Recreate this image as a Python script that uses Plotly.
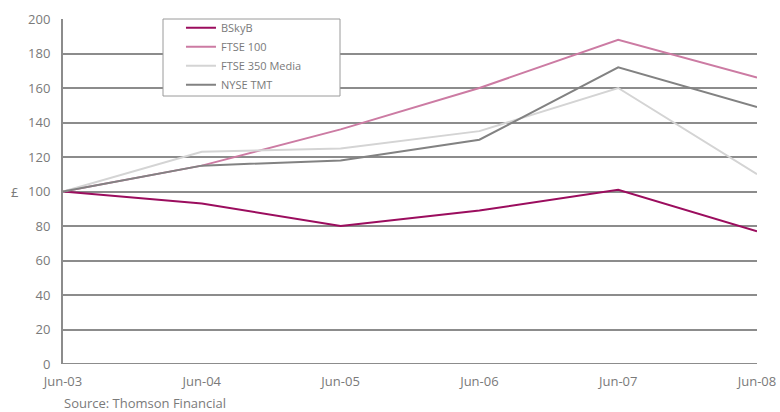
import plotly.graph_objects as go

dates = ["Jun-03", "Jun-04", "Jun-05", "Jun-06", "Jun-07", "Jun-08"]
bskyb = [100, 93, 80, 89, 101, 77]
ftse100 = [100, 115, 136, 160, 188, 166]
ftse350_media = [100, 123, 125, 135, 160, 110]
nyse_tmt = [100, 115, 118, 130, 172, 149]
y_ticks = list(range(0, 201, 20))

series = [
    ("BSkyB", bskyb, "#9b0d5e"),
    ("FTSE 100", ftse100, "#cc7ba3"),
    ("FTSE 350 Media", ftse350_media, "#d4d4d4"),
    ("NYSE TMT", nyse_tmt, "#828282"),
]

FONT = "Open Sans"
TXT = "#7a7a7a"
GRID = "#8c8c8c"

fig = go.Figure()
for name, vals, col in series:
    fig.add_trace(go.Scatter(x=dates, y=vals, name=name, mode="lines",
                             line=dict(color=col, width=2)))

fig.update_layout(
    width=780, height=412,
    margin=dict(l=63, r=23, t=19, b=48, autoexpand=False),
    paper_bgcolor="white", plot_bgcolor="white",
    font=dict(family=FONT, color=TXT, size=13),
    showlegend=True,
    legend=dict(x=0.170, y=1.017, xanchor="left", yanchor="top",
                bgcolor="rgba(0,0,0,0)", borderwidth=0,
                font=dict(size=11, color=TXT, family=FONT),
                tracegroupgap=0, itemwidth=30),
    xaxis=dict(type="category", range=[0, 5], showgrid=False,
               showline=False, zeroline=False, ticks="",
               ticklabelstandoff=8, automargin=False,
               tickfont=dict(size=13, color=TXT)),
    yaxis=dict(range=[0, 200], tickvals=y_ticks, showgrid=True,
               gridcolor=GRID, gridwidth=2, showline=True, linecolor=GRID,
               linewidth=2, zeroline=False, ticks="", ticklen=0,
               ticklabelstandoff=8, automargin=False,
               tickfont=dict(size=13, color=TXT)),
)

# x axis baseline
fig.add_shape(type="line", xref="paper", yref="y", x0=0, x1=1, y0=0, y1=0,
              line=dict(color=GRID, width=2), layer="above")
# legend box
fig.add_shape(type="rect", xref="paper", yref="paper",
              x0=(163 - 63) / 694, x1=(340 - 63) / 694,
              y0=(364 - 96) / 345, y1=1.0,
              fillcolor="white", line=dict(color="#9a9a9a", width=1),
              layer="above")

fig.add_annotation(text="£", xref="paper", yref="y", x=-0.07, y=100,
                   xanchor="center", yanchor="middle", showarrow=False,
                   font=dict(size=13, color=TXT, family=FONT))
fig.add_annotation(text="Source: Thomson Financial", xref="paper", yref="paper",
                   x=-0.002, y=-0.08, xanchor="left", yanchor="top",
                   showarrow=False, font=dict(size=13, color=TXT, family=FONT))

fig.write_html("out.html")
